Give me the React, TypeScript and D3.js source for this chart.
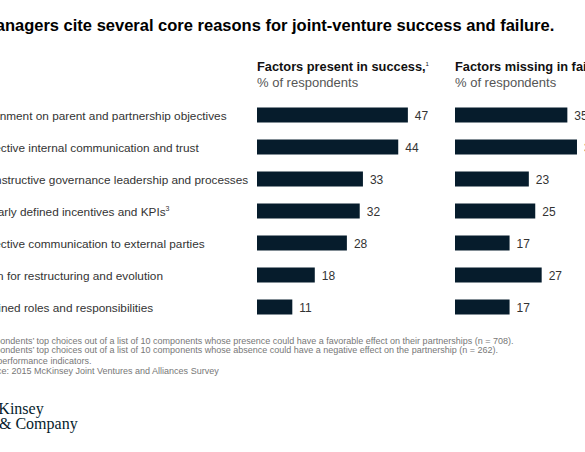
import { useEffect, useRef } from "react";
import * as d3 from "d3";

const categories = [
  "Alignment on parent and partnership objectives",
  "Effective internal communication and trust",
  "Constructive governance leadership and processes",
  "Clearly defined incentives and KPIs",
  "Effective communication to external parties",
  "Plan for restructuring and evolution",
  "Defined roles and responsibilities",
];
const categoryNotes = ["", "", "", "3", "", "", ""];
const successValues = [47, 44, 33, 32, 28, 18, 11];
const failureValues = [35, 38, 23, 25, 17, 27, 17];

const footnotes = [
  { sup: "1", text: "Respondents’ top choices out of a list of 10 components whose presence could have a favorable effect on their partnerships (n = 708)." },
  { sup: "2", text: "Respondents’ top choices out of a list of 10 components whose absence could have a negative effect on the partnership (n = 262)." },
  { sup: "3", text: "Key performance indicators." },
  { sup: "", text: "Source: 2015 McKinsey Joint Ventures and Alliances Survey" },
];
const footnoteY = [344, 353, 364, 374];

const W = 585;
const H = 452;
const NAVY = "#061c2c";
const FONT = "'Liberation Sans', Arial, Helvetica, sans-serif";

export default function App() {
  const svgRef = useRef<SVGSVGElement>(null);

  useEffect(() => {
    document.body.style.margin = "0";
    const svg = d3.select(svgRef.current!);
    svg.selectAll("*").remove();

    const labelX = -20;
    const panels = [
      { x0: 257, title: "Factors present in success,", sup: "1", values: successValues },
      { x0: 455, title: "Factors missing in failure,", sup: "2", values: failureValues },
    ];

    const x = d3.scaleLinear().domain([0, 50]).range([0, 160.5]);
    const y = d3.scalePoint<string>().domain(categories).range([115, 307]);
    const barH = 15;

    // title
    svg
      .append("text")
      .attr("x", -18)
      .attr("y", 31)
      .attr("font-family", FONT)
      .attr("font-size", 16.5)
      .attr("font-weight", 700)
      .attr("fill", "#000")
      .text("Managers cite several core reasons for joint-venture success and failure.");

    // category labels
    const lab = svg
      .append("g")
      .selectAll("text")
      .data(categories)
      .join("text")
      .attr("x", labelX)
      .attr("y", (d) => y(d)! + 4.5)
      .attr("font-family", FONT)
      .attr("font-size", 11.8)
      .attr("fill", "#333");
    lab.append("tspan").text((d) => d);
    lab
      .append("tspan")
      .attr("font-size", 7)
      .attr("dy", -5)
      .text((_d, i) => categoryNotes[i]);

    for (const p of panels) {
      const g = svg.append("g").attr("transform", `translate(${p.x0},0)`);

      const head = g
        .append("text")
        .attr("x", 0)
        .attr("y", 71)
        .attr("font-family", FONT)
        .attr("font-size", 12.8)
        .attr("font-weight", 700)
        .attr("fill", "#111");
      head.append("tspan").text(p.title);
      head.append("tspan").attr("font-size", 6).attr("font-weight", 400).attr("dy", -5).text(p.sup);

      g.append("text")
        .attr("x", 0)
        .attr("y", 86.5)
        .attr("font-family", FONT)
        .attr("font-size", 13)
        .attr("fill", "#555")
        .text("% of respondents");

      g.selectAll("rect")
        .data(p.values)
        .join("rect")
        .attr("x", 0)
        .attr("y", (_d, i) => y(categories[i])! - barH / 2)
        .attr("width", (d) => x(d))
        .attr("height", barH)
        .attr("fill", NAVY);

      g.selectAll("text.val")
        .data(p.values)
        .join("text")
        .attr("class", "val")
        .attr("x", (d) => x(d) + 7)
        .attr("y", (_d, i) => y(categories[i])! + 4.5)
        .attr("font-family", FONT)
        .attr("font-size", 12)
        .attr("fill", "#333")
        .text((d) => d);
    }

    // footnotes
    const fn = svg
      .append("g")
      .selectAll("text")
      .data(footnotes)
      .join("text")
      .attr("x", (d) => (d.sup ? -24 : -22))
      .attr("y", (_d, i) => footnoteY[i])
      .attr("font-family", FONT)
      .attr("font-size", 9)
      .attr("fill", "#777");
    fn.append("tspan").attr("font-size", 6).attr("dy", -3).text((d) => d.sup);
    fn.append("tspan").attr("dy", (d) => (d.sup ? 3 : 0)).text((d) => d.text);

    // logo
    const logo = svg
      .append("text")
      .attr("font-family", "'Liberation Serif', 'DejaVu Serif', serif")
      .attr("font-size", 16)
      .attr("fill", NAVY);
    logo.append("tspan").attr("x", -23).attr("y", 414).text("McKinsey");
    logo.append("tspan").attr("x", -1).attr("y", 429).text("& Company");
  }, []);

  return (
    <div style={{ position: "fixed", left: 0, top: 0 }}>
      <svg ref={svgRef} width={W} height={H} style={{ display: "block", background: "#fff" }} />
    </div>
  );
}
